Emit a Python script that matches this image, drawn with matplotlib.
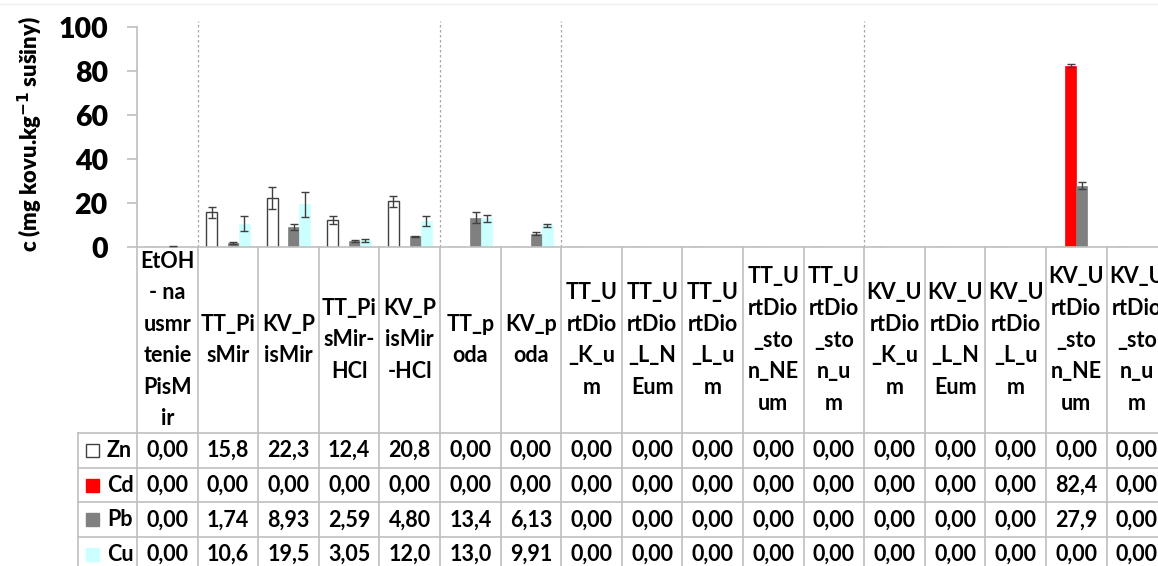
import matplotlib
matplotlib.use("Agg")
import matplotlib.pyplot as plt
from matplotlib.patches import Rectangle

plt.rcParams['font.family'] = ['Lato', 'DejaVu Sans']

categories = [
    "EtOH\n- na\nusmr\ntenie\nPisM\nir", "TT_Pi\nsMir", "KV_P\nisMir", "TT_Pi\nsMir-\nHCl",
    "KV_P\nisMir\n-HCl", "TT_p\noda", "KV_p\noda", "TT_U\nrtDio\n_K_u\nm",
    "TT_U\nrtDio\n_L_N\nEum", "TT_U\nrtDio\n_L_u\nm", "TT_U\nrtDio\n_sto\nn_NE\num",
    "TT_U\nrtDio\n_sto\nn_u\nm", "KV_U\nrtDio\n_K_u\nm", "KV_U\nrtDio\n_L_N\nEum",
    "KV_U\nrtDio\n_L_u\nm", "KV_U\nrtDio\n_sto\nn_NE\num", "KV_U\nrtDio\n_sto\nn_u\nm",
]
series_names = ["Zn", "Cd", "Pb", "Cu"]
zn = [0, 15.8, 22.3, 12.4, 20.8, 0, 0, 0, 0, 0, 0, 0, 0, 0, 0, 0, 0]
cd = [0, 0, 0, 0, 0, 0, 0, 0, 0, 0, 0, 0, 0, 0, 0, 82.4, 0]
pb = [0, 1.74, 8.93, 2.59, 4.80, 13.4, 6.13, 0, 0, 0, 0, 0, 0, 0, 0, 27.9, 0]
cu = [0, 10.6, 19.5, 3.05, 12.0, 13.0, 9.91, 0, 0, 0, 0, 0, 0, 0, 0, 0, 0]
zn_err = [0, 2.6, 4.8, 1.8, 2.5, 0, 0, 0, 0, 0, 0, 0, 0, 0, 0, 0, 0]
cd_err = [0, 0, 0, 0, 0, 0, 0, 0, 0, 0, 0, 0, 0, 0, 0, 0.8, 0]
pb_err = [0.3, 0.5, 1.4, 0.5, 0.3, 2.6, 0.5, 0, 0, 0, 0, 0, 0, 0, 0, 1.7, 0]
cu_err = [0, 3.3, 5.7, 0.6, 2.3, 1.5, 0.6, 0, 0, 0, 0, 0, 0, 0, 0, 0, 0]
group_separators = [0.5, 4.5, 6.5, 11.5]
y_ticks = [0, 20, 40, 60, 80, 100]

values = [zn, cd, pb, cu]
errors = [zn_err, cd_err, pb_err, cu_err]
faces = ["white", "#FF0000", "#808080", "#CCFFFF"]
edges = ["#404040", "#FF0000", "#808080", "#CCFFFF"]

W, H = 1158, 566
fig = plt.figure(figsize=(W / 100, H / 100), dpi=100)

col_w = 60.6
left_px = 137
n = len(categories)
ax_left = left_px / W
ax_w = n * col_w / W
axis_px = 247
top_px = 27
ax = fig.add_axes([ax_left, 1 - axis_px / H, ax_w, (axis_px - top_px) / H])
ax.set_xlim(-0.5, n - 0.5)
ax.set_ylim(0, 100)

bw = 0.18
grid_c = "#BFBFBF"
for s in range(4):
    xs = [i + (s - 1.5) * bw for i in range(n)]
    ax.bar(xs, values[s], width=bw, color=faces[s], edgecolor=edges[s],
           linewidth=1.0 if s == 0 else 0.5, zorder=2)
    ex = [x for x, e in zip(xs, errors[s]) if e > 0]
    ey = [v for v, e in zip(values[s], errors[s]) if e > 0]
    ee = [e for e in errors[s] if e > 0]
    ax.errorbar(ex, ey, yerr=ee, fmt="none", ecolor="#404040", elinewidth=1.0,
                capsize=3, capthick=1.0, zorder=3)

for gx in group_separators:
    ax.plot([gx, gx], [0, 102.5], color="#A6A6A6", linestyle=(0, (2, 2)),
            linewidth=0.9, clip_on=False, zorder=1)

for sp in ["top", "right"]:
    ax.spines[sp].set_visible(False)
ax.spines["left"].set_color(grid_c)
ax.spines["bottom"].set_color(grid_c)
ax.spines["left"].set_linewidth(1.2)
ax.spines["bottom"].set_linewidth(1.2)
ax.set_xticks([])
ax.set_yticks(y_ticks)
ax.set_yticklabels([str(t) for t in y_ticks], fontsize=20.5, fontweight="heavy")
ax.tick_params(axis="y", length=7, width=1.2, color=grid_c, pad=14)
ax.patch.set_alpha(0)

fig.text(30 / W, 1 - 134 / H, "c (mg kovu.kg$^{\\mathbf{-1}}$ sušiny)", rotation=90,
         ha="center", va="center", fontsize=15.8, fontweight="heavy")

# data table
tab_h = H - axis_px
tax = fig.add_axes([ax_left, 0, ax_w, tab_h / H])
tax.set_xlim(-0.5, n - 0.5)
tax.set_ylim(tab_h, 0)
tax.axis("off")
header_h = 186
row_h = 34.7
leg_left = -0.5 - (left_px - 78) / col_w

for i in range(n + 1):
    tax.plot([i - 0.5, i - 0.5], [0, tab_h], color=grid_c, lw=1.2, clip_on=False)
tax.plot([leg_left, leg_left], [header_h, tab_h], color=grid_c, lw=1.2, clip_on=False)
for r in range(4):
    y = header_h + r * row_h
    tax.plot([leg_left, n - 0.5], [y, y], color=grid_c, lw=1.2, clip_on=False)

for i, lab in enumerate(categories):
    tax.text(i, header_h / 2, lab, ha="center", va="center", fontsize=15.5,
             fontweight="bold", linespacing=1.62)


def fmt(v):
    if v == 0:
        return "0,00"
    s = f"{v:.2f}" if v < 10 else f"{v:.1f}"
    return s.replace(".", ",")


key_x = -0.5 - (137 - 86) / col_w
key_w = 13 / col_w
for r in range(4):
    yc = header_h + r * row_h + row_h / 2
    tax.add_patch(Rectangle((key_x, yc - 6.5), key_w, 13, facecolor=faces[r],
                            edgecolor="#404040" if r == 0 else faces[r], lw=1.0,
                            clip_on=False))
    tax.text(-0.5 - (137 - 107) / col_w, yc, series_names[r], ha="left", va="center",
             fontsize=15.5, fontweight="bold", clip_on=False)
    for i in range(n):
        tax.text(i, yc, fmt(values[r][i]), ha="center", va="center", fontsize=15.5,
                 fontweight="bold")

fig.add_artist(plt.Line2D([0, 1], [1 - 4 / H, 1 - 4 / H], color="#EEEEEE", lw=1))

fig.savefig("out.png", dpi=100)
